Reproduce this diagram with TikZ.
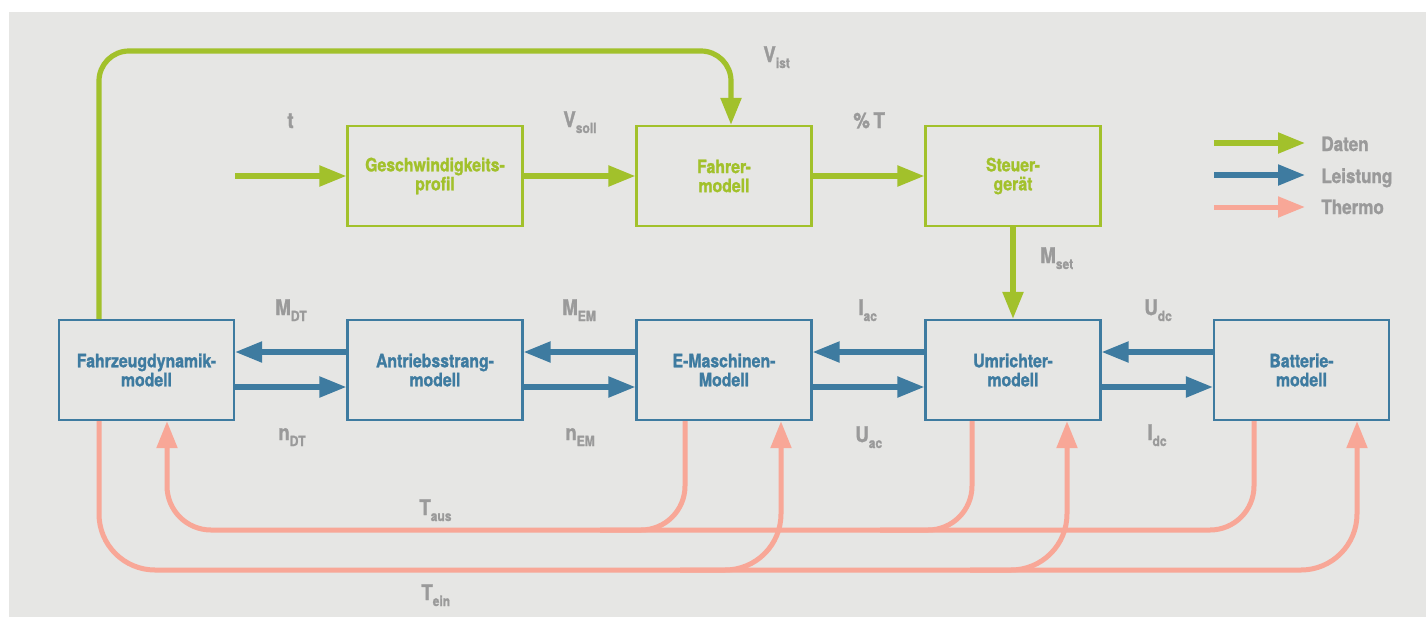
\documentclass[tikz,border=0pt]{standalone}
\usepackage{fontspec}
\setmainfont[FakeStretch=0.86, BoldFeatures={FakeBold=1.3}]{TeX Gyre Heros}
\usetikzlibrary{arrows.meta}
\definecolor{dgreen}{HTML}{A2C12B}
\definecolor{dblue}{HTML}{3E7BA0}
\definecolor{salmon}{HTML}{F8A797}
\definecolor{lgray}{HTML}{9A9A9A}
\definecolor{bgc}{HTML}{E6E6E4}
\newcommand\lsub[1]{\raisebox{-3pt}{\fontsize{7}{8}\selectfont #1}}
\begin{document}
\begin{tikzpicture}[x=0.5pt,y=-0.5pt,
  tri/.tip={Triangle[length=13.5pt,width=10pt]},
  boxbase/.style={line width=1.1pt, minimum width=87.5pt, minimum height=50pt, inner sep=0pt,
     font=\bfseries\fontsize{9.2}{9.5}\selectfont, align=center},
  gbox/.style={boxbase, draw=dgreen, text=dgreen},
  bbox/.style={boxbase, draw=dblue, text=dblue},
  dat/.style={line width=2.6pt, draw=dgreen, -tri},
  pow/.style={line width=2.6pt, draw=dblue, -tri},
  therm/.style={line width=2.5pt, draw=salmon},
  lab/.style={text=lgray, font=\bfseries\fontsize{10.8}{12}\selectfont, anchor=base west, inner sep=0pt},
  leg/.style={text=lgray, font=\bfseries\fontsize{9.9}{11}\selectfont, anchor=base west, inner sep=0pt}
]
\useasboundingbox (0,0) rectangle (1426,617);
\fill[bgc] (9,12) rectangle (1426,617);

% boxes
\node[gbox] (geschw) at (435,176) {Geschwindigkeits-\\profil};
\node[gbox] (fahrer) at (724,176) {Fahrer-\\modell};
\node[gbox] (steuer) at (1013,176) {Steuer-\\gerät};
\node[bbox] (fzd) at (146.5,370) {Fahrzeugdynamik-\\modell};
\node[bbox] (antr) at (435,370) {Antriebsstrang-\\modell};
\node[bbox] (emasch) at (724,370) {E-Maschinen-\\Modell};
\node[bbox] (umr) at (1013,370) {Umrichter-\\modell};
\node[bbox] (batt) at (1301.5,370) {Batterie-\\modell};

% data arrows
\coordinate (tin) at (235,176);
\draw[dat] (tin) -- (geschw.west);
\draw[dat] (geschw.east) -- (fahrer.west);
\draw[dat] (fahrer.east) -- (steuer.west);
\draw[dat] (steuer.south) -- (umr.north);
\coordinate (vtop) at (731,51);
\draw[dat, rounded corners=15pt] ([xshift=-23.75pt]fzd.north) |- (vtop) -- ([xshift=3.5pt]fahrer.north);

% power arrows
\foreach \a/\b in {antr/fzd, emasch/antr, umr/emasch, batt/umr}{
  \draw[pow] ([yshift=9pt]\a.west) -- ([yshift=9pt]\b.east);
  \draw[pow] ([yshift=-8.5pt]\b.east) -- ([yshift=-8.5pt]\a.west);
}

% thermo T_aus
\coordinate (ta) at (167,530);
\draw[therm, rounded corners=22pt, -tri] ([xshift=-23.75pt]batt.south) |- (ta) -- ([xshift=10.25pt]fzd.south);
\draw[therm, rounded corners=22pt] ([xshift=-19.5pt]emasch.south) |- (600,530);
\draw[therm, rounded corners=22pt] ([xshift=-20.5pt]umr.south) |- (880,530);
% thermo T_ein
\coordinate (tb) at (1357,570);
\draw[therm, rounded corners=28pt, -tri] ([xshift=-23.75pt]fzd.south) |- (tb) -- ([xshift=27.75pt]batt.south);
\draw[therm, rounded corners=28pt, -tri] (680,570) -| ([xshift=28.5pt]emasch.south);
\draw[therm, rounded corners=28pt, -tri] (970,570) -| ([xshift=27pt]umr.south);

% labels
\node[lab] (lt) at (287,128) {t};
\node[lab] (lvsoll) at (563,127) {V\lsub{soll}};
\node[lab] (lpt) at (853,128) {\%\,T};
\node[lab] (lvist) at (763,62) {V\lsub{ist}};
\node[lab] (lmset) at (1040,263) {M\lsub{set}};
\node[lab] (lmdt) at (275,315) {M\lsub{DT}};
\node[lab] (lmem) at (562,315) {M\lsub{EM}};
\node[lab] (liac) at (858,315) {I\lsub{ac}};
\node[lab] (ludc) at (1144,315) {U\lsub{dc}};
\node[lab] (lndt) at (278,440) {n\lsub{DT}};
\node[lab] (lnem) at (565,440) {n\lsub{EM}};
\node[lab] (luac) at (855,442) {U\lsub{ac}};
\node[lab] (lidc) at (1147,440) {I\lsub{dc}};
\node[lab] (ltaus) at (419,515) {T\lsub{aus}};
\node[lab] (ltein) at (421,600) {T\lsub{ein}};

% legend
\node[leg] (ld) at (1321,151) {Daten};
\node[leg] (ll) at (1321,183) {Leistung};
\node[leg] (lth) at (1321,214) {Thermo};
\coordinate (ld0) at (1214,143);
\coordinate (ll0) at (1214,175);
\coordinate (lt0) at (1214,207);
\draw[dat] (ld0) -- ++(91,0);
\draw[pow] (ll0) -- ++(91,0);
\draw[therm, -tri] (lt0) -- ++(91,0);
\end{tikzpicture}
\end{document}
